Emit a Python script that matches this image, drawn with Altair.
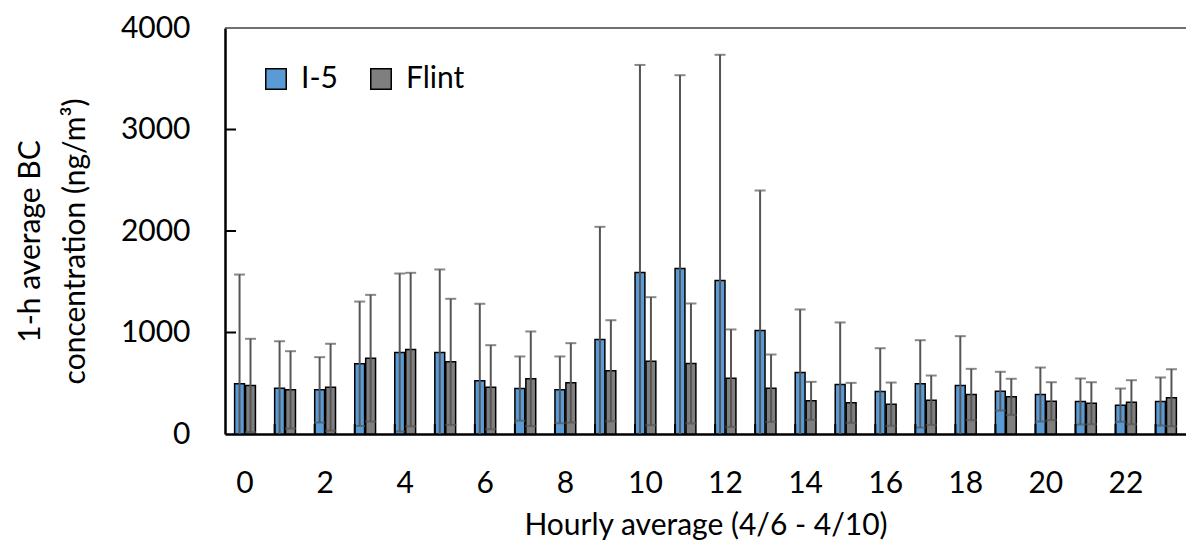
import altair as alt
import pandas as pd

hours = list(range(24))
series_names = ["I-5", "Flint"]
series_colors = ["#5B9BD5", "#7F7F7F"]

i5_mean = [495, 451, 435, 692, 803, 803, 524, 448, 435, 931, 1591, 1631,
           1512, 1020, 606, 488, 419, 494, 478, 422, 389, 320, 284, 320]
i5_sd = [1076, 463, 322, 613, 778, 818, 759, 316, 329, 1110, 2045, 1904,
         2224, 1379, 621, 611, 426, 430, 486, 191, 266, 227, 164, 237]
flint_mean = [478, 435, 461, 747, 832, 711, 461, 544, 504, 623, 717, 695,
              550, 451, 327, 307, 294, 333, 389, 366, 323, 303, 313, 357]
flint_sd = [460, 381, 428, 624, 756, 621, 414, 466, 391, 498, 631, 591,
            480, 332, 187, 197, 213, 243, 253, 178, 187, 207, 217, 281]

y_ticks = [0, 1000, 2000, 3000, 4000]
inner_ticks = [1000, 2000, 3000]
x_labels = list(range(0, 24, 2))

rows = []
for name, means, sds in [("I-5", i5_mean, i5_sd), ("Flint", flint_mean, flint_sd)]:
    for h, m, s in zip(hours, means, sds):
        rows.append({"hour": h, "series": name, "mean": m, "sd": s})
df = pd.DataFrame(rows)

FONT = "Lato"
W, H = 961, 406

x_axis = alt.Axis(values=x_labels, labelAngle=0, ticks=False, labelPadding=34,
                  title="Hourly average (4/6 - 4/10)", titleY=100,
                  titleBaseline="alphabetic")
y_axis = alt.Axis(values=y_ticks, format="d", ticks=False, labelPadding=35,
                  title=["1-h average BC", "concentration (ng/m\u00b3)"],
                  titleX=-210, titleY=213, titleAngle=-90, titleBaseline="top",
                  titleAlign="center", titleLineHeight=45)
x_scale = alt.Scale(paddingInner=0.48, paddingOuter=0.24)
y_scale = alt.Scale(domain=[0, 4000], nice=False)

X = alt.X("hour:O", scale=x_scale, axis=x_axis)
XO = alt.XOffset("series:N", sort=series_names, scale=alt.Scale(paddingInner=0.1))

base = alt.Chart(df).transform_calculate(
    lo="max(datum.mean - datum.sd, 0)", hi="datum.mean + datum.sd"
)

bars = base.mark_bar(stroke="black", strokeWidth=1.5).encode(
    x=X,
    xOffset=XO,
    y=alt.Y("mean:Q", scale=y_scale, axis=y_axis),
    color=alt.Color(
        "series:N", sort=series_names,
        scale=alt.Scale(domain=series_names, range=series_colors),
        legend=alt.Legend(orient="none", legendX=36, legendY=36, direction="horizontal",
                          title=None, symbolType="square", symbolSize=420,
                          symbolStrokeColor="black", symbolStrokeWidth=1.5,
                          labelFont=FONT, labelFontSize=30, labelColor="black",
                          labelOffset=10, columnPadding=28),
    ),
)

whiskers = base.mark_rule(color="#555555", strokeWidth=2).encode(
    x=X, xOffset=XO,
    y=alt.Y("lo:Q", scale=y_scale, axis=y_axis), y2="hi:Q",
)

caps_hi = base.mark_tick(color="#555555", thickness=2, size=11, orient="horizontal").encode(
    x=X, xOffset=XO, y=alt.Y("hi:Q", scale=y_scale, axis=y_axis),
)

caps_lo = base.transform_filter("datum.lo > 0").mark_tick(
    color="#555555", thickness=2, size=11, orient="horizontal").encode(
    x=X, xOffset=XO, y=alt.Y("lo:Q", scale=y_scale, axis=y_axis),
)

xticks = alt.Chart(pd.DataFrame({"hour": hours[1:]})).mark_rule(
    color="black", strokeWidth=2).encode(
    x=alt.X("hour:O", bandPosition=0, scale=x_scale, axis=x_axis),
    y=alt.value(H - 10), y2=alt.value(H),
)

yticks = alt.Chart(pd.DataFrame({"v": inner_ticks})).mark_rule(
    color="black", strokeWidth=2).encode(
    y=alt.Y("v:Q", scale=y_scale, axis=y_axis),
    x=alt.value(0), x2=alt.value(11),
)

top_border = alt.Chart(pd.DataFrame({"v": [4000]})).mark_rule(
    color="#404040", strokeWidth=1.5).encode(
    y=alt.Y("v:Q", scale=y_scale, axis=y_axis),
)

chart = alt.layer(top_border, bars, whiskers, caps_hi, caps_lo, xticks, yticks).properties(
    width=W, height=H,
    autosize=alt.AutoSizeParams(type="none"),
    padding={"left": 217, "top": 20, "right": 0, "bottom": 110},
).configure_axis(
    labelFont=FONT, titleFont=FONT, labelFontSize=30, titleFontSize=30,
    labelColor="black", titleColor="black", titleFontWeight="normal",
    domainColor="black", domainWidth=2.5, grid=False,
).configure_view(stroke="transparent")

chart.save("out.html", embed_options={"renderer": "svg", "actions": False})
